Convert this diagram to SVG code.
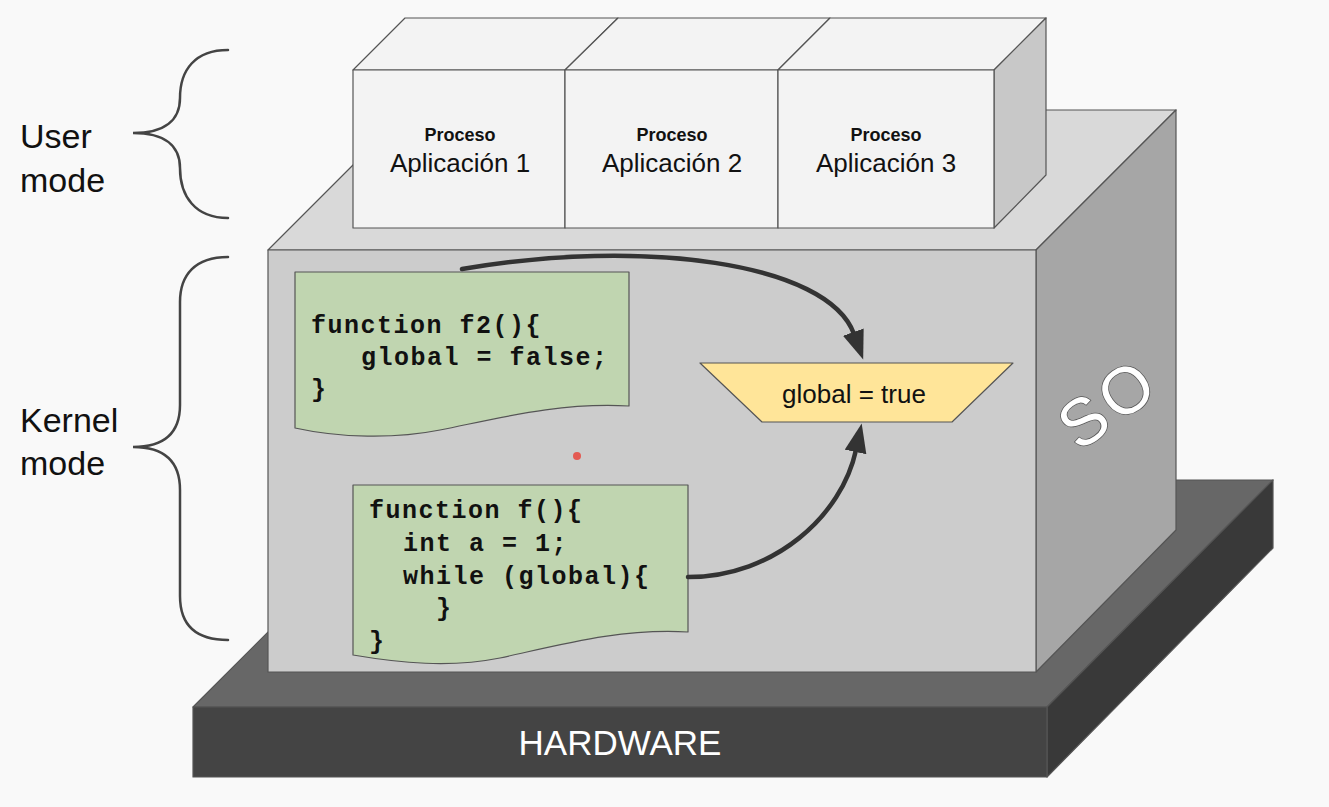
<svg xmlns="http://www.w3.org/2000/svg" width="1329" height="807" viewBox="0 0 1329 807">
<style>
.edge{stroke:#555;stroke-width:1.2;stroke-linejoin:round}
.sans{font-family:"Liberation Sans",Arial,sans-serif}
.code{font-family:"Liberation Mono","Courier New",monospace;font-weight:bold;font-size:25px;letter-spacing:1.5px;fill:#111}
.brace{fill:none;stroke:#444;stroke-width:2.5;stroke-linecap:round}
.conn{fill:none;stroke:#333;stroke-width:4.5;stroke-linecap:round}
</style>
<defs>
<marker id="ah" markerUnits="userSpaceOnUse" markerWidth="32" markerHeight="24" refX="2" refY="11" orient="auto">
<path d="M0,0 L29,11 L0,22 z" fill="#333"/>
</marker>
</defs>
<rect width="1329" height="807" fill="#f9f9f9"/>

<g id="hardware">
<polygon class="edge" points="193,707 1047,707 1273,480 420,480" fill="#676767"/>
<polygon class="edge" points="1047,707 1273,480 1273,548 1047,777" fill="#393939"/>
<rect class="edge" x="193" y="707" width="854" height="70" fill="#444444"/>
<text class="sans" x="620" y="755" font-size="35" fill="#ffffff" text-anchor="middle">HARDWARE</text>
</g>

<g id="so">
<polygon class="edge" points="268,250 1036,250 1176,110 408,110" fill="#d9d9d9"/>
<polygon class="edge" points="1036,250 1176,110 1176,530 1036,672" fill="#a6a6a6"/>
<rect class="edge" x="268" y="250" width="768" height="422" fill="#cccccc"/>
<text class="sans" transform="translate(1108,403) rotate(-36)" y="23" font-size="66" letter-spacing="5" fill="#ffffff" stroke="#555" stroke-width="1.5" paint-order="stroke" text-anchor="middle">SO</text>
</g>

<g id="proc1">
<polygon class="edge" points="353,70 565,70 618,18 405,18" fill="#f3f3f3"/>
<rect class="edge" x="353" y="70" width="212" height="158" fill="#f3f3f3"/>
<text class="sans" x="460" y="141" font-size="18" font-weight="bold" text-anchor="middle" fill="#111">Proceso</text>
<text class="sans" x="460" y="172" font-size="26" text-anchor="middle" fill="#111">Aplicación 1</text>
</g>
<g id="proc2">
<polygon class="edge" points="565,70 778,70 830,18 618,18" fill="#f3f3f3"/>
<rect class="edge" x="565" y="70" width="213" height="158" fill="#f3f3f3"/>
<text class="sans" x="672" y="141" font-size="18" font-weight="bold" text-anchor="middle" fill="#111">Proceso</text>
<text class="sans" x="672" y="172" font-size="26" text-anchor="middle" fill="#111">Aplicación 2</text>
</g>
<g id="proc3">
<polygon class="edge" points="778,70 994,70 1046,18 830,18" fill="#f3f3f3"/>
<polygon class="edge" points="994,70 1046,18 1046,175 994,228" fill="#c8c8c8"/>
<rect class="edge" x="778" y="70" width="216" height="158" fill="#f3f3f3"/>
<text class="sans" x="886" y="141" font-size="18" font-weight="bold" text-anchor="middle" fill="#111">Proceso</text>
<text class="sans" x="886" y="172" font-size="26" text-anchor="middle" fill="#111">Aplicación 3</text>
</g>

<g id="f2">
<path class="edge" d="M295,272 H629 V406 C560,402 500,418 440,430 C395,439 340,438 295,428 Z" fill="#c0d5b0"/>
<text class="code" y="333"><tspan x="311">function f2(){</tspan><tspan x="361" y="365">global = false;</tspan><tspan x="311" y="397">}</tspan></text>
</g>

<g id="f">
<path class="edge" d="M353,485 H688 V632 C620,628 560,645 500,658 C450,668 400,663 353,655 Z" fill="#c0d5b0"/>
<text class="code" y="518"><tspan x="369">function f(){</tspan><tspan x="403" y="551">int a = 1;</tspan><tspan x="403" y="584">while (global){</tspan><tspan x="436" y="616">}</tspan><tspan x="369" y="649">}</tspan></text>
</g>

<g id="global">
<polygon class="edge" points="700,363 1013,363 952,422 762,422" fill="#ffe599"/>
<text class="sans" x="854" y="403" font-size="26" text-anchor="middle" fill="#111">global = true</text>
</g>

<g id="connectors">
<path class="conn" d="M462,269 C640,238 828,262 854,334" marker-end="url(#ah)"/>
<path class="conn" d="M688,577 C775,577 842,515 856,450" marker-end="url(#ah)"/>
</g>

<g id="user-mode">
<path class="brace" d="M228,50 C195,50 180,70 180,98 C180,120 165,133 133,133 C165,133 180,146 180,168 C180,196 195,218 228,218"/>
<text class="sans" x="20" y="148" font-size="34" fill="#111">User</text>
<text class="sans" x="20" y="192" font-size="34" fill="#111">mode</text>
</g>
<g id="kernel-mode">
<path class="brace" d="M228,257 C195,257 180,275 180,302 L180,405 C180,432 165,447 133,447 C165,447 180,462 180,490 L180,596 C180,624 195,640 228,640"/>
<text class="sans" x="20" y="432" font-size="34" fill="#111">Kernel</text>
<text class="sans" x="20" y="475" font-size="34" fill="#111">mode</text>
</g>

<circle cx="577" cy="456" r="4" fill="#e8453c" opacity="0.85"/>
</svg>
